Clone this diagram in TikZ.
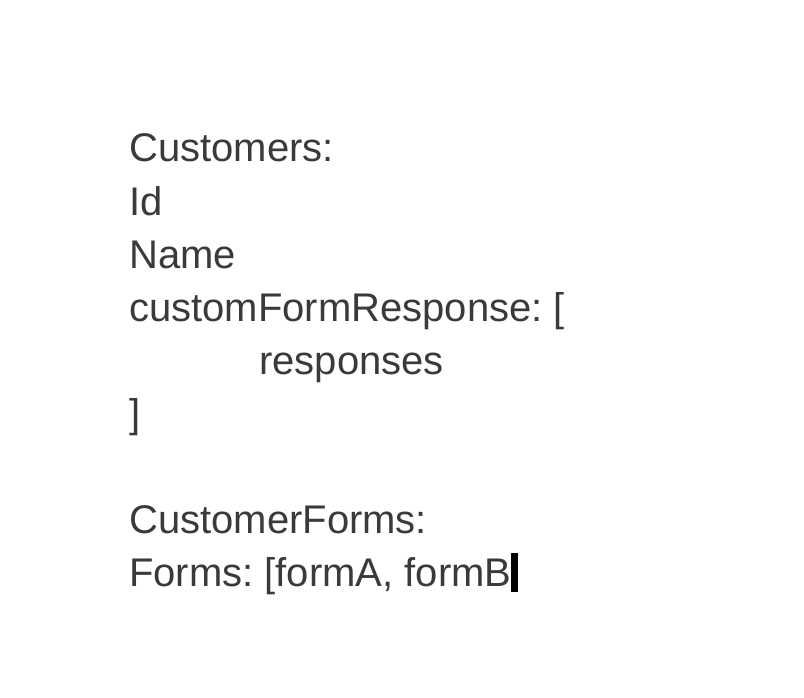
\documentclass[tikz,border=0pt]{standalone}
\usepackage{fontspec}
\setmainfont{Liberation Sans}
\definecolor{txtgray}{HTML}{3A3A3A}
\frenchspacing
\begin{document}
\begin{tikzpicture}[x=1pt,y=-1pt,
  line/.style={anchor=base west, inner sep=0pt, text=txtgray, font=\fontsize{40}{48}\selectfont\frenchspacing}]
\useasboundingbox[fill=white] (0,0) rectangle (804,698);
\node[line] (customers) at (129,162) {Customers:};
\node[line] (id) at (129,215) {Id};
\node[line] (name) at (129,268) {Name};
\node[line] (cfr) at (129,321) {customFormResponse: [};
\node[line] (responses) at (259,374) {responses};
\node[line] (close) at (129,427) {]};
\node[line] (cforms) at (129,533) {CustomerForms:};
\node[line] (forms) at (129,586) {Forms: [formA, formB};
\fill[black] (511,553) rectangle (518,592);
\end{tikzpicture}
\end{document}
